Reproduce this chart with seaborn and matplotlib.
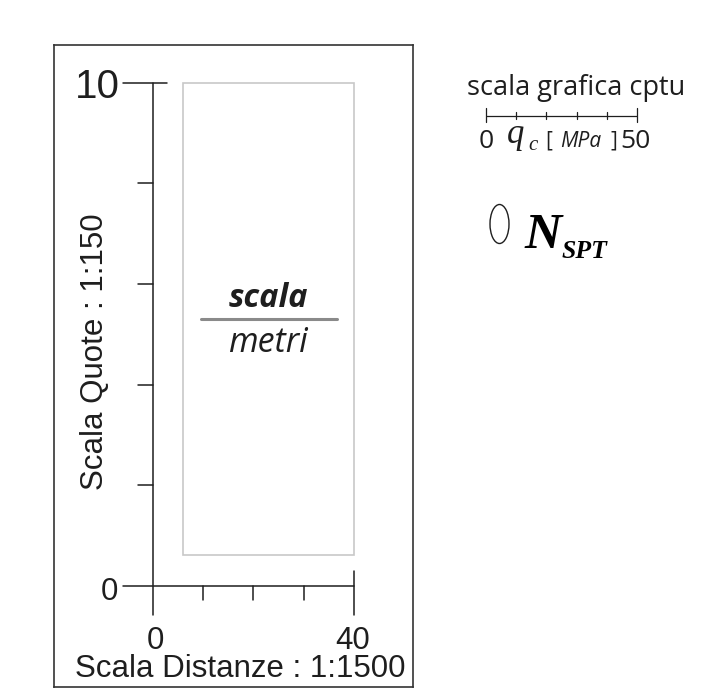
import matplotlib
matplotlib.use("Agg")
import matplotlib.pyplot as plt
import seaborn as sns
from matplotlib.patches import Rectangle, Ellipse

# scale values
quote_ticks = [0, 2, 4, 6, 8, 10]        # m (scala quote 1:150)
dist_ticks = [0, 10, 20, 30, 40]         # m (scala distanze 1:1500)
qc_ticks = [0, 10, 20, 30, 40, 50]       # MPa (scala grafica cptu)
quote_title = "Scala Quote : 1:150"
dist_title = "Scala Distanze : 1:1500"
cptu_title = "scala grafica cptu"

W, H = 722, 700
INK = "#1e1e1e"

sns.set_theme(style="white")
plt.rcParams["font.family"] = ["Liberation Sans", "DejaVu Sans"]

fig = plt.figure(figsize=(W / 100, H / 100), dpi=100)


def box(x0, y0, x1, y1):
    # pixel box (top-left origin) -> figure fraction
    return [x0 / W, 1 - y1 / H, (x1 - x0) / W, (y1 - y0) / H]


def fx(x, y):
    return x / W, 1 - y / H


# outer frame
frame = fig.add_axes(box(54, 45, 413, 687))
frame.set_xticks([])
frame.set_yticks([])
frame.set_facecolor("none")
for s in frame.spines.values():
    s.set_visible(True)
    s.set_color("#333333")
    s.set_linewidth(1.2)

# main scale axes: x in metres 0-40, y in metres 0-10
ax = fig.add_axes(box(152.7, 82.7, 354, 585.7))
ax.set_xlim(min(dist_ticks), max(dist_ticks))
ax.set_ylim(min(quote_ticks), max(quote_ticks))
ax.axis("off")
PX = (max(dist_ticks) - min(dist_ticks)) / (354 - 152.7)
PY = (max(quote_ticks) - min(quote_ticks)) / (585.7 - 82.7)
x0, x1 = min(dist_ticks), max(dist_ticks)
y0, y1 = min(quote_ticks), max(quote_ticks)
kw = dict(color=INK, lw=1.1, clip_on=False)

# panel box
ax.add_patch(Rectangle((30 * PX, 30.7 * PY), x1 - 30 * PX, y1 - 30.7 * PY,
                       fill=False, edgecolor="#c8c8c8", lw=1.2, clip_on=False))

# vertical axis
ax.plot([x0, x0], [y0 - 29.3 * PY, y1], **kw)
ax.plot([x0 - 30 * PX, x0 + 14.3 * PX], [y1, y1], **kw)
for t in quote_ticks[1:-1]:
    ax.plot([x0 - 14.5 * PX, x0], [t, t], **kw)
# horizontal axis
sns.lineplot(x=[x0 - 30 * PX, x1], y=[y0, y0], ax=ax, estimator=None, **kw)
ax.plot([x1, x1], [y0 - 29.3 * PY, y0 + 15 * PY], **kw)
for t in dist_ticks[1:-1]:
    ax.plot([t, t], [y0 - 14.3 * PY, y0], **kw)

# labels
ax.text(x0 - 32.7 * PX, y1 - 15.6 * PY, str(y1), fontsize=29, ha="right",
        va="baseline", color=INK)
ax.text(x0 - 35 * PX, y0 - 14.3 * PY, str(y0), fontsize=22.5, ha="right",
        va="baseline", color=INK)
ax.text(x0 + 2.3 * PX, y0 - 63.5 * PY, str(x0), fontsize=22.5, ha="center",
        va="baseline", color=INK)
ax.text(x1 - 1 * PX, y0 - 63.5 * PY, str(x1), fontsize=22.5, ha="center",
        va="baseline", color=INK)
ax.text(x0 + 87.2 * PX, y0 - 91 * PY, dist_title, fontsize=22.5,
        ha="center", va="baseline", color=INK)
ax.text(x0 - 57.7 * PX, y0 + 234 * PY, quote_title, fontsize=22.5,
        rotation=90, ha="center", va="center", color=INK)

# scala / metri in the panel
sans = ["Open Sans", "DejaVu Sans"]
xc = (30 * PX + x1) / 2
ax.text(xc, y0 + 279 * PY, "scala", fontsize=23.5, fontstyle="italic",
        fontweight="bold", family=sans, ha="center", va="baseline",
        color=INK)
ax.plot([48 * PX, 184 * PX], [y0 + 267 * PY] * 2, color="#8a8a8a", lw=2.2,
        clip_on=False)
ax.text(xc, y0 + 234 * PY, "metri", fontsize=24.5, fontstyle="italic",
        family=sans, ha="center", va="baseline", color=INK)

# cptu graphic scale
cx = fig.add_axes(box(486, 106, 637, 126))
cx.set_xlim(min(qc_ticks), max(qc_ticks))
cx.set_ylim(-1, 1)
cx.axis("off")
sns.lineplot(x=[qc_ticks[0], qc_ticks[-1]], y=[0, 0], ax=cx, estimator=None,
             color=INK, lw=0.9)
for t in qc_ticks:
    if t in (qc_ticks[0], qc_ticks[-1]):
        cx.plot([t, t], [-0.6, 0.82], color=INK, lw=0.9, clip_on=False)
    else:
        cx.plot([t, t], [-0.27, 0.43], color=INK, lw=0.9, clip_on=False)

fig.text(*fx(576, 95), cptu_title, fontsize=19.5, family=sans, ha="center",
         va="baseline", color=INK)
fig.text(*fx(486.5, 148), str(qc_ticks[0]), fontsize=19, family=sans,
         ha="center", va="baseline", color=INK)
fig.text(*fx(620, 148), str(qc_ticks[-1]), fontsize=19, family=sans,
         ha="left", va="baseline", color=INK)
serif = ["Liberation Serif", "DejaVu Serif"]
fig.text(*fx(507, 143), "q", fontsize=25, family=serif, fontstyle="italic",
         ha="left", va="baseline", color=INK)
fig.text(*fx(528, 150), "c", fontsize=15, family=serif, fontstyle="italic",
         ha="left", va="baseline", color=INK)
fig.text(*fx(545, 146.5), "[", fontsize=15, family=sans, ha="left",
         va="baseline", color=INK)
fig.text(*fx(560, 147), "MPa", fontsize=15, family=sans, fontstyle="italic",
         ha="left", va="baseline", color=INK)
fig.text(*fx(610, 146.5), "]", fontsize=15, family=sans, ha="left",
         va="baseline", color=INK)

# N_SPT marker
fig.add_artist(Ellipse(fx(499.5, 224), 19 / W, 39 / H, fill=False,
                       edgecolor=INK, lw=1.0, transform=fig.transFigure))
fig.text(*fx(524, 248), "N", fontsize=37, family=serif, fontstyle="italic",
         fontweight="bold", ha="left", va="baseline", color="black")
fig.text(*fx(562, 258), "SPT", fontsize=18.5, family=serif, fontstyle="italic",
         fontweight="bold", ha="left", va="baseline", color="black")

fig.savefig("out.png", dpi=100, facecolor="white")
